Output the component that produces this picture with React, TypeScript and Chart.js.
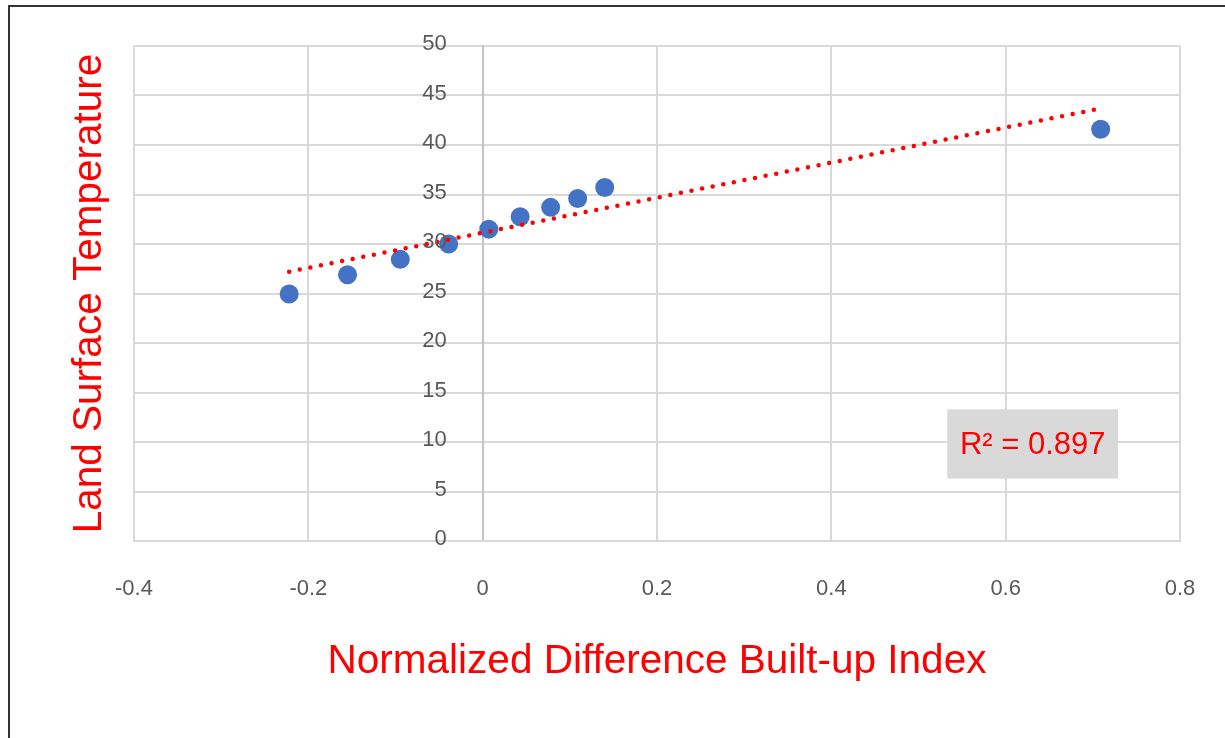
import React, { useEffect, useRef } from "react";
import { Chart, registerables } from "chart.js";

Chart.register(...registerables);

// ---- data ----
const ndbi = [-0.222, -0.155, -0.0945, -0.039, 0.007, 0.043, 0.078, 0.109, 0.14, 0.709];
const lst = [24.95, 26.9, 28.45, 30.0, 31.5, 32.75, 33.7, 34.6, 35.7, 41.6];
const trendX = [-0.222, 0.709];
const trendY = [27.2, 43.7];
const xTicks = [-0.4, -0.2, 0, 0.2, 0.4, 0.6, 0.8];
const xTickLabels = ["-0.4", "-0.2", "0", "0.2", "0.4", "0.6", "0.8"];
const yTicks = [0, 5, 10, 15, 20, 25, 30, 35, 40, 45, 50];
const yTickLabels = ["0", "5", "10", "15", "20", "25", "30", "35", "40", "45", "50"];
const r2Label = "R² = 0.897";
const xTitle = "Normalized Difference Built-up Index";
const yTitle = "Land Surface Temperature";

// annotation box placement, in data units
const R2_BOX = { xMin: 0.533, xMax: 0.729, yMin: 6.3, yMax: 13.3 };

const FAMILY = '"Liberation Sans", Arial, sans-serif';
const TICK_COLOR = "#595959";
const GRID_COLOR = "#d9d9d9";
const RED = "#ff0000";
const TICK_FONT_SIZE = 22;
const Y_LABEL_GAP = 36;

// y tick labels sit to the left of the vertical axis that crosses at x = 0
const yLabelPlugin = {
  id: "yLabels",
  afterDatasetsDraw(chart: any) {
    const { ctx, scales } = chart;
    const x = scales.x;
    const y = scales.y;
    const ax = x.getPixelForValue(0) - Y_LABEL_GAP;
    ctx.save();
    ctx.fillStyle = TICK_COLOR;
    ctx.font = `${TICK_FONT_SIZE}px ${FAMILY}`;
    ctx.textAlign = "right";
    ctx.textBaseline = "middle";
    yTicks.forEach((v, i) => {
      ctx.fillText(yTickLabels[i], ax, y.getPixelForValue(v) - 2);
    });
    ctx.restore();
  },
};

const r2Plugin = {
  id: "r2box",
  afterDatasetsDraw(chart: any) {
    const { ctx, scales } = chart;
    const x = scales.x;
    const y = scales.y;
    const l = x.getPixelForValue(R2_BOX.xMin);
    const r = x.getPixelForValue(R2_BOX.xMax);
    const t = y.getPixelForValue(R2_BOX.yMax);
    const b = y.getPixelForValue(R2_BOX.yMin);
    ctx.save();
    ctx.fillStyle = "#d9d9d9";
    ctx.fillRect(l, t, r - l, b - t);
    ctx.fillStyle = RED;
    ctx.font = `31px ${FAMILY}`;
    ctx.textAlign = "center";
    ctx.textBaseline = "middle";
    ctx.fillText(r2Label, (l + r) / 2, (t + b) / 2 + 1);
    ctx.restore();
  },
};

export default function App() {
  const canvasRef = useRef<HTMLCanvasElement | null>(null);

  useEffect(() => {
    if (!canvasRef.current) return;
    const points = ndbi.map((v, i) => ({ x: v, y: lst[i] }));
    const trend = trendX.map((v, i) => ({ x: v, y: trendY[i] }));
    const chart = new Chart(canvasRef.current, {
      type: "scatter",
      data: {
        datasets: [
          {
            type: "line",
            label: "Trend",
            data: trend,
            xAxisID: "x",
            yAxisID: "y",
            borderColor: RED,
            borderWidth: 4.5,
            borderDash: [0, 10.8],
            borderCapStyle: "round",
            pointRadius: 0,
            fill: false,
            tension: 0,
          } as any,
          {
            label: "LST",
            data: points,
            xAxisID: "x",
            yAxisID: "y",
            backgroundColor: "#4472c4",
            borderColor: "#4472c4",
            borderWidth: 0,
            pointRadius: 9.5,
            pointHoverRadius: 9.5,
          },
        ],
      },
      options: {
        responsive: false,
        animation: false,
        devicePixelRatio: 1,
        layout: { padding: { left: 66, right: 45, top: 46, bottom: 0 } },
        plugins: {
          legend: { display: false },
          tooltip: { enabled: false },
        },
        scales: {
          y: {
            type: "linear",
            position: { x: 0 } as any,
            min: 0,
            max: 50,
            afterBuildTicks: (s: any) => {
              s.ticks = yTicks.map((v) => ({ value: v }));
            },
            ticks: { display: false },
            grid: { color: GRID_COLOR, lineWidth: 2, drawTicks: false },
            border: { display: true, color: "#c4c4c4", width: 2 },
          },
          x: {
            type: "linear",
            position: "bottom",
            min: -0.4,
            max: 0.8,
            afterBuildTicks: (s: any) => {
              s.ticks = xTicks.map((v) => ({ value: v }));
            },
            ticks: {
              callback: (v: any) => xTickLabels[xTicks.indexOf(Number(v))],
              color: TICK_COLOR,
              font: { size: TICK_FONT_SIZE, family: FAMILY },
              padding: 0,
              maxRotation: 0,
              autoSkip: false,
            },
            grid: {
              color: GRID_COLOR,
              lineWidth: 2,
              drawTicks: true,
              tickLength: 35,
              tickColor: "rgba(0,0,0,0)",
            },
            border: { display: true, color: GRID_COLOR, width: 2 },
            title: {
              display: true,
              text: xTitle,
              color: RED,
              font: { size: 40.5, family: FAMILY },
              padding: { top: 0, bottom: 52 },
            },
            afterFit: (s: any) => {
              s.height = 197;
            },
          },
          yTitle: {
            type: "linear",
            axis: "y",
            position: "left",
            display: true,
            ticks: { display: false },
            grid: { display: false },
            border: { display: false },
            title: {
              display: true,
              text: yTitle,
              color: RED,
              font: { size: 40.5, family: FAMILY },
              padding: { top: 0, bottom: 0 },
            },
            afterFit: (s: any) => {
              s.width = 68;
            },
          } as any,
        },
      },
      plugins: [yLabelPlugin, r2Plugin],
    });
    return () => chart.destroy();
  }, []);

  return (
    <div
      style={{
        position: "absolute",
        left: 0,
        top: 0,
        width: 1225,
        height: 738,
        background: "#ffffff",
        overflow: "hidden",
      }}
    >
      <canvas
        ref={canvasRef}
        width={1225}
        height={738}
        style={{ position: "absolute", left: 0, top: 0, width: 1225, height: 738 }}
      />
      <div
        style={{
          position: "absolute",
          left: 8,
          top: 5,
          right: 0,
          bottom: 0,
          borderTop: "2px solid #333333",
          borderLeft: "2px solid #333333",
          pointerEvents: "none",
        }}
      />
    </div>
  );
}
